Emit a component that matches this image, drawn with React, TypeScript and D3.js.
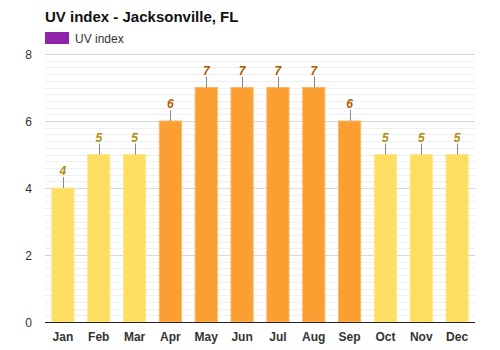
import React from "react";
import * as d3 from "d3";

const months = ["Jan","Feb","Mar","Apr","May","Jun","Jul","Aug","Sep","Oct","Nov","Dec"];
const uvValues = [4,5,5,6,7,7,7,7,6,5,5,5];
const yTicks = [0,2,4,6,8];

const W = 500, H = 350;
const M = { left: 45, right: 25, top: 54, bottom: 28 };

export default function App() {
  const x = d3.scaleBand<string>().domain(months).range([M.left, W - M.right]).paddingInner(0.38).paddingOuter(0.19);
  const y = d3.scaleLinear().domain([0, 8]).range([H - M.bottom, M.top]);
  const minor = d3.range(0, 8.0001, 0.2);
  const font = "Arial, 'Liberation Sans', Helvetica, sans-serif";
  return (
    <svg width={W} height={H} style={{ position: "absolute", left: 0, top: 0 }} fontFamily={font}>
      <rect width={W} height={H} fill="#fff" />
      <text x={M.left} y={22} fontSize={15} fontWeight="bold" fill="#111">UV index - Jacksonville, FL</text>
      <rect x={45} y={32} width={24} height={12} fill="#8E24AA" />
      <text x={75} y={42.5} fontSize={12} fill="#333">UV index</text>
      {minor.map((v, i) => (
        <line key={"m" + i} x1={M.left} x2={W - M.right} y1={Math.round(y(v)) + 0.5} y2={Math.round(y(v)) + 0.5} stroke="#efefef" strokeWidth={1} />
      ))}
      {yTicks.map((v) => (
        <g key={"t" + v}>
          <line x1={M.left} x2={W - M.right} y1={Math.round(y(v)) + 0.5} y2={Math.round(y(v)) + 0.5} stroke="#d8d8d8" strokeWidth={1} />
          <text x={32} y={y(v) + 4.5} textAnchor="end" fontSize={12} fill="#333">{v}</text>
        </g>
      ))}
      {uvValues.map((v, i) => {
        const m = months[i];
        const hi = v >= 6;
        const bx = x(m)!;
        const bw = x.bandwidth();
        const cx = bx + bw / 2;
        return (
          <g key={m}>
            <rect x={bx} y={y(v)} width={bw} height={y(0) - y(v)} fill={hi ? "#FB9F33" : "#FDDE61"} stroke={hi ? "#FDB968" : "#FEE98F"} strokeWidth={1} />
            <line x1={Math.round(cx) + 0.5} x2={Math.round(cx) + 0.5} y1={y(v) - 11} y2={y(v)} stroke="#888" strokeWidth={1} />
            <text x={cx} y={y(v) - 13} textAnchor="middle" fontSize={12} fontWeight="bold" fontStyle="italic" fill={hi ? "#B05A00" : "#B08F10"}>{v}</text>
          </g>
        );
      })}
      <line x1={M.left} x2={W - M.right} y1={y(0) + 0.5} y2={y(0) + 0.5} stroke="#222" strokeWidth={1.2} />
      {months.map((m) => (
        <text key={"x" + m} x={x(m)! + x.bandwidth() / 2} y={341} textAnchor="middle" fontSize={12} fontWeight="bold" fill="#333">{m}</text>
      ))}
    </svg>
  );
}
